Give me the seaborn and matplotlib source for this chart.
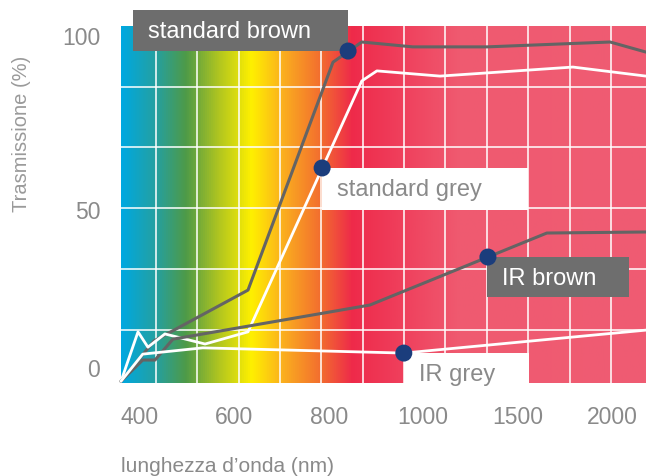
import numpy as np
import pandas as pd
import matplotlib
matplotlib.use("Agg")
import matplotlib.pyplot as plt
import seaborn as sns
from matplotlib.colors import LinearSegmentedColormap
from matplotlib.patches import Rectangle
from matplotlib.transforms import IdentityTransform, ScaledTranslation

# === Data ===
std_brown_wl = [360, 430, 629, 809, 870, 978, 1338, 1990, 2180]
std_brown_t = [0.5, 12.1, 26.7, 92.2, 98.0, 96.6, 96.6, 98.0, 95.1]

std_grey_wl = [360, 396, 417, 453, 538, 629, 870, 902, 1089, 1793, 2180]
std_grey_t = [0.5, 14.7, 10.3, 14.1, 11.2, 14.7, 86.8, 89.7, 88.2, 90.8, 88.2]

ir_brown_wl = [360, 406, 432, 470, 887, 1655, 2180]
ir_brown_t = [0.5, 6.6, 6.6, 12.6, 22.4, 43.1, 43.4]

ir_grey_wl = [360, 406, 533, 959, 2180]
ir_grey_t = [0.5, 8.3, 10.1, 8.6, 15.2]

series_names = ["standard brown", "standard grey", "IR brown", "IR grey"]
marker_wl = [841, 786, 1343, 959]
marker_t = [95.4, 61.8, 36.2, 8.6]

x_ticks = [400, 600, 800, 1000, 1500, 2000]
y_ticks = [0, 50, 100]

# === Style ===
sns.set_style("white")
plt.rcParams["font.family"] = ["Liberation Sans", "DejaVu Sans"]

DARK = "#646464"
TXT = "#8a8a8a"
NAVY = "#1b3d7c"

# piecewise axis: 400-1000 in steps of 200, then 1000-2000 in steps of 500
bp_wl = np.array([200, 400, 600, 800, 1000, 1500, 2000, 3000])
bp_pos = np.array([-1, 0, 1, 2, 3, 4, 5, 7])


def fwd(w):
    return np.interp(w, bp_wl, bp_pos)


def inv(p):
    return np.interp(p, bp_pos, bp_wl)


fig = plt.figure(figsize=(6.46, 4.77), dpi=100)
ax = fig.add_axes([121 / 646, 93 / 477, 525 / 646, 357 / 477])
ax.set_xscale("function", functions=(fwd, inv))
ax.set_xlim(360, 2180)
ax.set_ylim(0, 102.6)

# spectrum background
spec = LinearSegmentedColormap.from_list("spec", [
    (0.0, "#00a8e0"), (0.065, "#25a0a0"), (0.122, "#4e9a48"),
    (0.185, "#b0c520"), (0.248, "#fff000"), (0.307, "#fbb01e"),
    (0.383, "#f26a30"), (0.44, "#ee2a4a"), (0.512, "#ef3a58"),
    (0.646, "#ef5a70"), (1.0, "#ef5c73")])
ax.imshow(np.linspace(0, 1, 512)[None, :], cmap=spec, aspect="auto",
          extent=[0, 1, 0, 1], transform=ax.transAxes, zorder=0)

# decorative white grid
for gx in np.arange(35, 525, 41.35) / 525:
    ax.plot([gx, gx], [0, 1], transform=ax.transAxes, color="white",
            lw=1.3, alpha=0.85, zorder=1)
for gy in np.arange(0.1485, 1, 0.1705):
    ax.plot([0, 1], [gy, gy], transform=ax.transAxes, color="white",
            lw=1.3, alpha=0.85, zorder=1)

# curves
sns.lineplot(x=std_brown_wl, y=std_brown_t, color=DARK, lw=2.2, ax=ax, zorder=4)
sns.lineplot(x=std_grey_wl, y=std_grey_t, color="white", lw=2.0, ax=ax, zorder=4)
sns.lineplot(x=ir_brown_wl, y=ir_brown_t, color=DARK, lw=2.2, ax=ax, zorder=4)
sns.lineplot(x=ir_grey_wl, y=ir_grey_t, color="white", lw=2.0, ax=ax, zorder=4)
sns.scatterplot(x=marker_wl, y=marker_t, s=150, color=NAVY, edgecolor="none",
                ax=ax, zorder=6, clip_on=False)
for ln in ax.lines:
    ln.set_clip_on(False)

# label boxes anchored at the markers (pixel offsets)
# (dx, dy of box corner, width, height, box colour, text colour)
box_specs = [
    (-215, 0, 215, 41, "#6d6d6d", "white"),
    (0, -42, 206, 42, "white", TXT),
    (-1, -40, 142, 40, "#6e6e6e", "white"),
    (0, -35, 125, 35, "white", TXT),
]
for name, wl, t, (dx, dy, w, h, fc, tc) in zip(series_names, marker_wl, marker_t, box_specs):
    mx, my = ax.transData.transform((wl, t))
    ax.add_patch(Rectangle((mx + dx, my + dy), w, h, transform=IdentityTransform(),
                           facecolor=fc, edgecolor="none", zorder=3, clip_on=False))
    ax.text(mx + dx + 15, my + dy + h - 27, name, transform=IdentityTransform(),
            color=tc, fontsize=17, va="baseline", ha="left", zorder=7)

# axes cosmetics
sns.despine(ax=ax, left=True, bottom=True)
ax.set_xticks(x_ticks)
ax.set_xticklabels([str(v) for v in x_ticks])
ax.set_yticks(y_ticks)
ax.set_yticklabels([str(v) for v in y_ticks])
ax.minorticks_off()
ax.tick_params(axis="x", length=0, pad=16, labelsize=16.5, labelcolor=TXT)
ax.tick_params(axis="y", length=0, pad=15, labelsize=16.5, labelcolor=TXT)
# the "0" label sits a little above the axis floor
lbl0 = ax.get_yticklabels()[0]
lbl0.set_transform(lbl0.get_transform() + ScaledTranslation(0, 0.16, fig.dpi_scale_trans))

ax.set_xlabel("lunghezza d\u2019onda (nm)", fontsize=15, color=TXT, ha="left")
ax.xaxis.set_label_coords(0, -0.205)
ax.set_ylabel("Trasmissione (%)", fontsize=14.5, color="#9a9a9a", va="center")
ax.yaxis.set_label_coords(-0.189, 0.70)

fig.savefig("out.png", dpi=100)
